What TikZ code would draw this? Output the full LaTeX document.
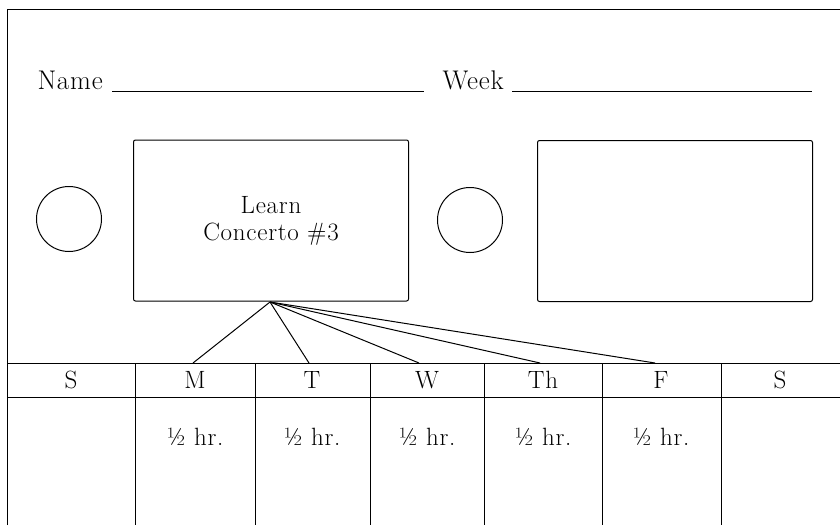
\documentclass[tikz,border=0pt]{standalone}
\usepackage{fontspec}
\setmainfont{Latin Modern Roman}[LetterSpace=3]
\begin{document}
\begin{tikzpicture}[x=1pt,y=-1pt,line width=1pt,
  lbl/.style={font=\fontsize{27}{30}\selectfont},
  cell/.style={font=\fontsize{25}{28}\selectfont},
  goalbox/.style={draw,rounded corners=2pt,minimum width=275pt,minimum height=161pt,
    align=center,inner sep=0pt,font=\fontsize{25}{27}\selectfont},
  ring/.style={draw,circle,minimum size=65pt,inner sep=0pt},
  blank/.style={line width=0.9pt}]
\useasboundingbox (0,0) rectangle (840,525);

% outer frame (open at right and bottom)
\draw (7,525) -- (7,9) -- (840,9);

% name and week fields
\node[lbl,anchor=base west,inner sep=0pt] (name) at (37,89) {Name};
\coordinate (nameA) at (112,91);
\coordinate (nameB) at (424,91);
\draw[blank] (nameA) -- (nameB);
\node[lbl,anchor=base west,inner sep=0pt] (week) at (442,89) {Week};
\coordinate (weekA) at (512,91);
\coordinate (weekB) at (812,91);
\draw[blank] (weekA) -- (weekB);

% goal boxes and check circles
\node[ring] (c1) at (69,219) {};
\node[goalbox] (learn) at (271,220.5) {Learn\\Concerto \#3};
\node[ring] (c2) at (470,220) {};
\node[goalbox] (goal2) at (675,221) {};

% week table: header row
\draw (7,363) -- (840,363);
\draw (7,397) -- (840,397);
\foreach \xx in {135,255,370,484,602,721}
  \draw (\xx,363) -- (\xx,525);

\node[cell] (sun) at (71,380) {S};
\node[cell] (mon) at (195,380) {M};
\node[cell] (tue) at (312,380) {T};
\node[cell] (wed) at (427,380) {W};
\node[cell] (thu) at (543,380) {Th};
\node[cell] (fri) at (661,380) {F};
\node[cell] (sat) at (780,380) {S};

% time planned per day
\foreach \n/\xx in {mon/195,tue/312,wed/427,thu/543,fri/661}
  \node[cell] (h\n) at (\xx,437) {½ hr.};

% connectors from the goal to each practice day
\coordinate (apex) at (270,302);
\coordinate (pm) at (193,363);
\coordinate (pt) at (309,363);
\coordinate (pw) at (419,363);
\coordinate (ph) at (540,363);
\coordinate (pf) at (655,363);
\foreach \p in {pm,pt,pw,ph,pf}
  \draw (apex) -- (\p);
\end{tikzpicture}
\end{document}
